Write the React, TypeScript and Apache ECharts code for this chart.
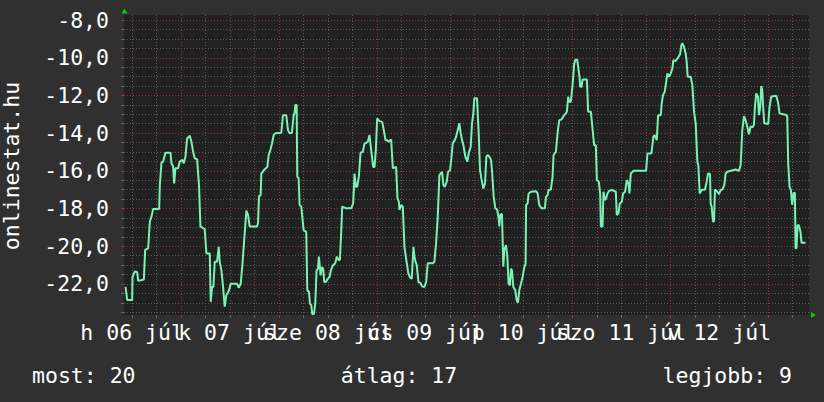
import React, { useEffect, useRef } from "react";
import * as echarts from "echarts";

// hours since 2015-07-06 00:00
const hours = [
  10.38, 10.78, 12.0, 12.09, 12.66, 13.23, 13.48, 14.87, 15.19, 15.93, 16.34, 16.74, 17.15, 18.62, 18.79, 19.19, 19.6, 20.17, 21.4, 21.64,
  22.05, 22.3, 22.62, 23.28, 23.68, 24.34, 24.66, 25.07, 25.48, 26.13, 26.54, 26.95, 27.36, 27.93, 28.42, 28.74, 29.8, 30.21, 31.03, 31.27,
  31.6, 31.93, 32.25, 32.82, 33.23, 33.48, 33.89, 34.3, 34.7, 35.11, 35.77, 36.17, 37.72, 38.13, 38.62, 39.03, 39.6, 40.01, 40.42, 40.82,
  42.62, 42.87, 43.11, 43.52, 43.68, 44.34, 45.15, 45.48, 45.89, 46.3, 46.7, 47.11, 48.58, 48.99, 49.8, 50.21, 50.62, 51.19, 51.6, 51.85,
  52.01, 52.34, 52.5, 52.83, 53.07, 53.48, 53.72, 54.05, 54.7, 54.95, 55.36, 55.6, 55.93, 56.17, 56.58, 56.91, 57.23, 57.56, 57.8, 58.05,
  58.21, 58.54, 58.87, 59.11, 59.52, 60.01, 60.42, 60.74, 61.23, 61.81, 62.21, 62.62, 62.95, 63.27, 63.52, 64.5, 65.72, 66.21, 66.54, 66.87,
  67.19, 67.6, 68.01, 68.58, 68.99, 69.81, 70.21, 70.62, 71.11, 71.44, 71.76, 72.09, 72.66, 73.32, 73.72, 74.13, 74.54, 74.95, 75.52, 75.93,
  76.74, 77.07, 77.4, 77.56, 77.97, 78.38, 78.78, 79.35, 79.76, 80.17, 80.58, 80.99, 81.23, 81.48, 81.8, 82.21, 82.7, 83.11, 83.68, 84.09,
  84.5, 85.72, 86.13, 86.54, 86.95, 87.35, 88.01, 88.33, 88.66, 89.15, 89.48, 89.97, 90.29, 90.62, 91.11, 91.44, 91.84, 92.25, 92.58, 92.91,
  93.23, 93.72, 94.21, 94.54, 95.03, 95.35, 95.68, 95.93, 96.58, 96.99, 97.31, 97.64, 98.13, 98.54, 98.87, 99.19, 99.6, 100.01, 100.25, 100.66,
  101.07, 101.48, 101.89, 102.05, 102.29, 102.7, 103.03, 103.27, 103.68, 104.01, 104.33, 104.66, 104.91, 105.15, 105.48, 105.97, 106.29, 106.62, 106.95, 107.35,
  107.76, 108.09, 108.5, 108.62, 108.99, 109.23, 109.8, 111.03, 111.44, 111.84, 112.41, 113.23, 113.48, 113.88, 114.13, 114.7, 115.11, 115.35, 115.93, 116.33,
  116.74, 117.31, 117.8, 118.37, 118.62, 118.95, 119.19, 119.6, 120.01, 120.41, 120.74, 121.15, 121.48, 121.72, 121.88, 122.21, 122.46, 123.52, 123.84, 124.5,
  124.9, 125.31, 125.72, 125.97, 126.46, 126.78, 126.95, 127.35, 127.6, 127.93, 128.25, 128.58, 128.99, 129.8, 130.62, 130.86, 131.27, 131.6, 132.09, 132.41,
  132.9, 133.31, 133.72, 133.97, 134.29, 134.95, 138.05, 138.37, 139.35, 139.84, 140.17, 140.66, 140.99, 141.64, 141.88, 142.21, 142.62, 142.86, 143.27, 143.68,
  144.09, 144.5, 144.74, 145.31, 145.72, 145.96, 146.37, 146.7, 146.94, 147.35, 147.76, 148.0, 148.25, 148.99, 149.39, 149.8, 150.21, 150.62, 150.86, 151.19,
  151.68, 152.5, 152.9, 153.23, 153.72, 153.88, 154.13, 154.45, 154.7, 154.94, 155.52, 155.92, 156.33, 156.74, 157.23, 157.56, 157.96, 160.0, 160.82, 161.23,
  161.64, 162.05, 162.45, 162.86, 163.27, 163.68, 164.09, 164.49, 164.74, 165.07, 165.48, 165.72, 166.05, 166.29, 166.54, 166.78, 167.03, 168.0, 168.33, 168.74,
  169.97, 170.37, 170.78, 172.41, 172.66, 172.9, 173.23, 173.56, 173.88, 174.21, 174.54, 174.7, 174.94, 175.19, 175.52, 175.92, 176.17, 177.15,
];

const temps = [
  -22.16, -22.86, -22.86, -21.63, -21.34, -21.37, -21.84, -21.77, -20.2, -20.11, -18.69, -18.43, -18.02, -18.02, -16.76, -15.56, -15.51, -15.04, -15.04, -15.6,
  -15.77, -16.67, -15.86, -15.86, -15.51, -15.42, -15.6, -15.25, -14.28, -14.14, -14.46, -14.99, -15.34, -15.39, -16.85, -18.95, -19.1, -20.38, -20.38, -22.95,
  -22.16, -22.16, -20.82, -20.82, -20.03, -20.82, -21.28, -22.16, -23.21, -22.6, -22.34, -21.99, -21.99, -22.2, -21.99, -21.0, -19.32, -18.11, -18.34, -18.95,
  -18.95, -18.78, -17.34, -17.29, -16.15, -15.96, -15.79, -15.16, -14.9, -14.55, -14.1, -14.01, -13.98, -13.05, -13.05, -13.84, -14.01, -13.98, -13.05, -12.91,
  -12.5, -12.5, -16.31, -16.4, -17.81, -17.9, -18.43, -19.15, -19.24, -22.34, -22.42, -23.04, -23.13, -23.6, -23.6, -23.04, -21.28, -21.2, -20.55, -21.11,
  -21.55, -21.11, -21.2, -21.9, -21.9, -21.72, -21.63, -21.28, -21.02, -20.9, -20.55, -20.73, -20.73, -19.24, -17.9, -17.99, -17.99, -17.72, -16.15, -16.85,
  -16.85, -16.31, -15.04, -14.99, -14.55, -14.46, -14.1, -14.9, -15.79, -15.79, -14.9, -13.22, -13.36, -13.4, -13.84, -14.37, -14.37, -14.46, -14.34, -15.86,
  -15.79, -17.46, -17.64, -18.08, -17.81, -17.9, -20.03, -20.9, -21.46, -21.67, -21.72, -20.03, -20.55, -20.82, -21.0, -21.9, -21.95, -22.13, -22.16, -21.9,
  -20.9, -20.9, -20.82, -19.85, -18.43, -16.23, -16.05, -16.76, -16.85, -16.58, -16.05, -15.96, -15.34, -14.55, -14.37, -14.2, -13.84, -13.48, -14.01, -14.37,
  -14.63, -15.25, -15.51, -15.07, -14.72, -13.48, -12.95, -12.15, -12.15, -14.01, -15.96, -16.4, -16.94, -16.67, -15.25, -15.16, -15.25, -15.42, -15.96, -17.37,
  -17.99, -18.04, -18.51, -18.95, -18.34, -18.29, -21.09, -20.2, -19.94, -20.55, -21.99, -22.07, -21.2, -21.28, -22.16, -22.34, -22.86, -23.0, -22.34, -21.99,
  -21.63, -21.2, -20.9, -17.81, -17.73, -17.2, -17.11, -17.08, -17.2, -17.81, -17.99, -17.99, -17.38, -17.29, -17.02, -16.99, -16.31, -15.16, -14.99, -14.01,
  -13.31, -13.28, -13.1, -12.95, -12.86, -12.06, -12.33, -12.33, -11.45, -10.31, -10.1, -10.1, -10.66, -11.01, -11.54, -11.54, -11.15, -11.15, -12.86, -12.86,
  -13.75, -14.64, -14.64, -16.49, -16.58, -17.2, -18.95, -18.95, -17.11, -17.55, -17.46, -17.2, -17.06, -17.02, -17.11, -18.34, -18.25, -17.73, -17.64, -17.2,
  -17.11, -16.49, -16.67, -17.2, -16.14, -16.0, -16.0, -15.08, -15.08, -14.19, -14.1, -14.37, -13.05, -13.05, -12.41, -11.97, -11.8, -11.45, -10.83, -11.01,
  -10.83, -10.57, -10.13, -10.17, -10.04, -9.96, -9.82, -9.34, -9.22, -9.43, -9.78, -10.22, -11.01, -11.01, -11.45, -12.86, -13.48, -15.51, -15.7, -17.2,
  -17.02, -16.99, -16.58, -16.14, -16.17, -17.73, -17.9, -18.69, -18.69, -16.99, -17.11, -17.24, -17.02, -16.99, -16.76, -16.14, -16.05, -15.93, -16.0, -15.7,
  -13.84, -13.1, -13.31, -13.66, -14.06, -13.63, -13.7, -13.57, -12.6, -11.89, -12.06, -13.04, -12.6, -11.5, -11.71, -12.69, -13.48, -13.51, -12.6, -12.06,
  -12.01, -12.33, -12.95, -13.04, -13.12, -15.6, -16.85, -17.02, -17.81, -17.2, -17.16, -20.11, -20.11, -18.89, -18.89, -19.24, -19.82, -19.82,
];

const dayLabels = ["h 06 júl", "k 07 júl", "sze 08 júl", "cs 09 júl", "p 10 júl", "szo 11 júl", "v 12 júl"];
const dayNoons = [12, 36, 60, 84, 108, 132, 156];
const midnights = [24, 48, 72, 96, 120, 144, 168];
const sixHourMarks = [12, 18, 30, 36, 42, 54, 60, 66, 78, 84, 90, 102, 108, 114, 126, 132, 138, 150, 156, 162, 174];
const yMajor = [-22, -20, -18, -16, -14, -12, -10, -8];
const yMinor = [-23.5, -23, -22.5, -21.5, -21, -20.5, -19.5, -19, -18.5, -17.5, -17, -16.5, -15.5, -15, -14.5, -13.5, -13, -12.5, -11.5, -11, -10.5, -9.5, -9, -8.5];

const yTitle = "onlinestat.hu";
const mostText = "most: 20";
const atlagText = "átlag: 17";
const legjobbText = "legjobb: 9";

const FONT = "'DejaVu Sans Mono', monospace";
const FS = 21.5;
const GRID_GRAY = "#5a5a5a";
const GRID_RED = "#903838";

// two label sets so that the library never drops an overlapping neighbour
const noonsA = dayNoons.filter((_, i) => i % 2 === 0);
const noonsB = dayNoons.filter((_, i) => i % 2 === 1);

export default function App() {
  const ref = useRef<HTMLDivElement>(null);
  useEffect(() => {
    if (!ref.current) return;
    const chart = echarts.init(ref.current, null, { renderer: "svg" });
    const data = hours.map((h, i) => [h, temps[i]]);
    const dayLabel = {
      formatter: (v: number) => dayLabels[dayNoons.indexOf(v)] ?? "",
      color: "#ffffff",
      fontFamily: FONT,
      fontSize: FS,
      margin: 6,
      hideOverlap: false,
      showMinLabel: true,
      showMaxLabel: true,
    };
    chart.setOption({
      animation: false,
      backgroundColor: "#303030",
      grid: {
        left: 124,
        right: 15,
        top: 15,
        bottom: 87,
        show: true,
        backgroundColor: "#212121",
        borderWidth: 0,
      },
      xAxis: [
        {
          type: "value",
          min: 10,
          max: 178,
          position: "bottom",
          axisLine: { show: false },
          axisTick: { show: true, customValues: sixHourMarks, length: 3, lineStyle: { color: "#666" } },
          splitLine: { show: true, lineStyle: { color: GRID_GRAY, type: [1, 2], width: 1 } },
          axisLabel: { ...dayLabel, customValues: noonsA },
        },
        {
          type: "value",
          min: 10,
          max: 178,
          position: "bottom",
          offset: 0,
          axisLine: { show: false },
          axisTick: { show: true, customValues: midnights, length: 3, lineStyle: { color: GRID_RED } },
          splitLine: { show: true, lineStyle: { color: GRID_RED, type: [1, 2], width: 1 } },
          axisLabel: { ...dayLabel, customValues: noonsB },
        },
      ],
      yAxis: [
        {
          type: "value",
          min: -23.65,
          max: -7.73,
          position: "left",
          axisLine: { show: false },
          axisTick: { show: true, customValues: yMinor, length: 3, lineStyle: { color: "#666" } },
          splitLine: { show: true, lineStyle: { color: GRID_GRAY, type: [1, 2], width: 1 } },
          axisLabel: {
            customValues: yMajor,
            formatter: (v: number) => v.toFixed(1).replace(".", ","),
            color: "#ffffff",
            fontFamily: FONT,
            fontSize: FS,
            margin: 15,
            showMinLabel: true,
            showMaxLabel: true,
          },
        },
        {
          type: "value",
          min: -23.65,
          max: -7.73,
          position: "left",
          axisLine: { show: false },
          axisTick: { show: true, customValues: yMajor, length: 3, lineStyle: { color: GRID_RED } },
          splitLine: { show: true, lineStyle: { color: GRID_RED, type: [1, 2], width: 1 } },
          axisLabel: { show: false },
        },
      ],
      series: [
        {
          type: "line",
          xAxisIndex: 0,
          yAxisIndex: 0,
          data,
          showSymbol: false,
          symbol: "none",
          lineStyle: { color: "#7af2b6", width: 2 },
          z: 5,
        },
      ],
      graphic: [
        {
          type: "text",
          x: 11,
          y: 166,
          rotation: Math.PI / 2,
          style: { text: yTitle, fill: "#ffffff", font: `${FS}px ${FONT}`, textAlign: "center", textVerticalAlign: "middle" },
        },
        {
          type: "text",
          x: 32,
          y: 375,
          style: { text: mostText, fill: "#ffffff", font: `${FS}px ${FONT}`, textAlign: "left", textVerticalAlign: "middle" },
        },
        {
          type: "text",
          x: 399,
          y: 375,
          style: { text: atlagText, fill: "#ffffff", font: `${FS}px ${FONT}`, textAlign: "center", textVerticalAlign: "middle" },
        },
        {
          type: "text",
          x: 792,
          y: 375,
          style: { text: legjobbText, fill: "#ffffff", font: `${FS}px ${FONT}`, textAlign: "right", textVerticalAlign: "middle" },
        },
        {
          type: "polygon",
          shape: { points: [[121.5, 13.5], [127.5, 13.5], [124.5, 8.5]] },
          style: { fill: "#00d000" },
        },
        {
          type: "polygon",
          shape: { points: [[811, 312], [811, 318], [816, 315]] },
          style: { fill: "#00d000" },
        },
      ],
    });
    return () => chart.dispose();
  }, []);
  return (
    <div style={{ position: "absolute", left: 0, top: 0, width: 824, height: 402 }}>
      <div ref={ref} style={{ width: 824, height: 402 }} />
    </div>
  );
}
